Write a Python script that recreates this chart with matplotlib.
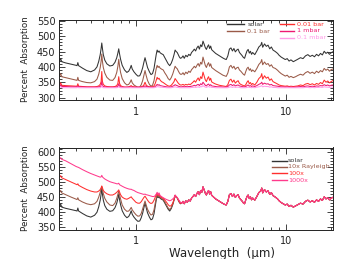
import numpy as np
import matplotlib
matplotlib.use("Agg")
import matplotlib.pyplot as plt
from matplotlib.ticker import LogLocator, NullFormatter, FixedLocator, FixedFormatter, MultipleLocator

# ---------------- data ----------------
wl_short = [0.300, 0.305, 0.310, 0.315, 0.320, 0.340, 0.370, 0.400, 0.405, 0.410,
            0.415, 0.440, 0.470, 0.500, 0.530, 0.550, 0.565, 0.578, 0.586, 0.592,
            0.598, 0.606, 0.620, 0.640, 0.670, 0.700, 0.725, 0.745, 0.758, 0.768,
            0.778, 0.790, 0.810, 0.840, 0.870, 0.895, 0.915, 0.930, 0.945, 0.970,
            1.000, 1.030, 1.060, 1.085, 1.110, 1.130, 1.150, 1.170, 1.195, 1.230,
            1.260, 1.290, 1.320, 1.345, 1.365, 1.385, 1.405, 1.425, 1.450, 1.480,
            1.520, 1.560, 1.600, 1.640, 1.680, 1.720, 1.760, 1.795, 1.825, 1.855,
            1.885, 1.915, 1.950, 1.980]
wl_long = [2.02, 2.06, 2.10, 2.15, 2.20, 2.25, 2.30, 2.35, 2.40, 2.45,
           2.50, 2.55, 2.60, 2.65, 2.70, 2.75, 2.80, 2.85, 2.90, 2.95,
           3.00, 3.05, 3.10, 3.15, 3.20, 3.30, 3.40, 3.50, 3.60, 3.70,
           3.80, 3.90, 4.00, 4.10, 4.20, 4.30, 4.40, 4.50, 4.60, 4.70,
           4.80, 4.90, 5.00, 5.10, 5.20, 5.30, 5.40, 5.50, 5.60, 5.70,
           5.80, 5.90, 6.00, 6.20, 6.40, 6.60, 6.80, 6.90, 7.00, 7.20,
           7.40, 7.60, 7.80, 8.00, 8.20, 8.50, 8.80, 9.00, 9.30, 9.60,
           9.90, 10.2, 10.5, 10.8, 11.2, 11.6, 12.0, 12.5, 13.0, 13.5,
           14.0, 14.5, 15.0, 15.5, 16.0, 16.5, 17.0, 17.5, 18.0, 18.5,
           19.0, 19.5, 20.0, 20.5]

# top panel: solar and pressure cut-offs
solar_short = [424, 430, 419, 427, 417, 413, 409, 405, 404, 414,
               404, 396, 388, 384, 390, 400, 418, 440, 460, 478,
               460, 440, 422, 410, 403, 405, 415, 430, 445, 459,
               442, 425, 405, 390, 382, 386, 395, 405, 393, 384,
               376, 370, 371, 382, 398, 415, 430, 415, 398, 384,
               375, 378, 395, 420, 440, 455, 448, 452, 446, 443,
               440, 430, 420, 410, 404, 412, 425, 440, 455, 450,
               447, 440, 432, 428]
solar_long = [430, 436, 428, 438, 433, 441, 437, 447, 452, 458,
              452, 462, 468, 458, 472, 466, 484, 474, 463, 457,
              466, 472, 460, 468, 456, 450, 444, 440, 436, 432,
              429, 426, 424, 436, 458, 462, 452, 460, 449, 455,
              458, 447, 442, 437, 431, 428, 441, 452, 457, 445,
              451, 441, 447, 440, 452, 465, 471, 480, 464, 475,
              467, 471, 459, 465, 455, 450, 444, 438, 432, 428,
              424, 427, 419, 423, 417, 421, 425, 430, 427, 436,
              440, 434, 438, 433, 441, 436, 444, 439, 451, 444,
              448, 441, 446, 449]

bar01_short = [375, 381, 370, 378, 368, 365, 361, 357, 356, 366,
               356, 352, 349, 348, 352, 360, 376, 398, 418, 442,
               418, 398, 380, 366, 357, 356, 365, 382, 402, 425,
               402, 382, 362, 348, 341, 343, 350, 358, 348, 341,
               337, 333, 334, 342, 356, 372, 388, 372, 356, 343,
               337, 340, 355, 378, 394, 405, 398, 402, 396, 393,
               390, 380, 372, 362, 357, 365, 377, 390, 402, 397,
               394, 387, 380, 376]
bar01_long = [376, 381, 374, 383, 378, 386, 382, 391, 396, 402,
              397, 405, 411, 402, 415, 409, 432, 418, 405, 398,
              408, 414, 402, 410, 398, 393, 388, 384, 380, 376,
              373, 371, 369, 380, 400, 405, 396, 402, 392, 397,
              399, 390, 386, 381, 376, 373, 385, 395, 399, 389,
              394, 385, 390, 384, 395, 408, 415, 424, 407, 416,
              408, 411, 402, 407, 398, 395, 389, 384, 378, 374,
              370, 373, 366, 369, 365, 368, 372, 376, 373, 381,
              385, 379, 383, 378, 386, 381, 388, 384, 395, 389,
              393, 386, 391, 393]

bar001_short = [345, 350, 341, 348, 340, 339, 338, 337, 337, 345,
                337, 336, 335, 335, 335, 336, 338, 343, 352, 385,
                352, 343, 338, 336, 335, 335, 336, 339, 346, 368,
                346, 339, 336, 334, 334, 335, 337, 339, 336, 335,
                334, 334, 334, 335, 337, 341, 350, 341, 337, 335,
                335, 335, 338, 346, 356, 366, 360, 363, 357, 352,
                349, 345, 341, 338, 337, 340, 346, 352, 362, 357,
                352, 347, 343, 341]
bar001_long = [341, 343, 340, 343, 341, 344, 342, 346, 350, 355,
               350, 358, 364, 355, 368, 362, 383, 370, 358, 352,
               362, 368, 356, 363, 351, 347, 344, 342, 340, 339,
               338, 337, 336, 342, 356, 360, 350, 357, 347, 352,
               355, 346, 343, 341, 339, 338, 342, 350, 355, 345,
               349, 342, 346, 341, 350, 362, 368, 378, 360, 371,
               363, 367, 356, 361, 352, 348, 344, 341, 339, 338,
               337, 338, 336, 337, 336, 337, 338, 341, 339, 344,
               346, 342, 345, 341, 346, 343, 349, 345, 357, 350,
               354, 348, 352, 355]

mbar1_short = [340, 343, 337, 341, 336, 336, 335, 335, 335, 338,
               335, 335, 334, 334, 334, 334, 335, 336, 339, 352,
               339, 336, 335, 334, 334, 334, 334, 335, 337, 345,
               337, 335, 334, 334, 334, 334, 335, 335, 334, 334,
               334, 334, 334, 334, 335, 336, 338, 336, 335, 334,
               334, 334, 334, 336, 339, 343, 340, 342, 339, 338,
               337, 336, 335, 334, 334, 335, 337, 339, 342, 340,
               339, 337, 336, 335]
mbar1_long = [335, 336, 335, 336, 335, 336, 336, 337, 338, 340,
              338, 341, 343, 339, 345, 342, 350, 345, 340, 338,
              342, 344, 339, 342, 338, 337, 336, 335, 335, 335,
              334, 334, 334, 336, 341, 343, 339, 342, 338, 340,
              341, 338, 337, 336, 335, 335, 336, 339, 341, 337,
              339, 336, 338, 336, 339, 343, 346, 350, 343, 347,
              344, 345, 341, 343, 339, 338, 337, 336, 335, 335,
              334, 335, 334, 334, 334, 334, 335, 336, 335, 337,
              338, 336, 337, 336, 338, 337, 339, 338, 342, 339,
              341, 338, 340, 341]

mbar01_short = [335, 337, 333, 336, 332, 332, 332, 332, 332, 334,
                332, 332, 332, 332, 332, 332, 332, 332, 334, 340,
                334, 332, 332, 332, 332, 332, 332, 332, 333, 336,
                333, 332, 332, 332, 332, 332, 332, 332, 332, 332,
                332, 332, 332, 332, 332, 332, 333, 332, 332, 332,
                332, 332, 332, 333, 334, 336, 335, 335, 334, 334,
                333, 333, 332, 332, 332, 332, 333, 334, 335, 334,
                333, 333, 332, 332]
mbar01_long = [332, 332, 332, 332, 332, 332, 332, 333, 333, 334,
               333, 334, 335, 333, 336, 335, 339, 336, 334, 333,
               335, 336, 334, 335, 333, 333, 332, 332, 332, 332,
               332, 332, 332, 332, 334, 335, 333, 335, 333, 334,
               334, 333, 332, 332, 332, 332, 332, 333, 334, 333,
               333, 332, 333, 332, 334, 335, 337, 339, 335, 337,
               336, 336, 334, 335, 333, 333, 332, 332, 332, 332,
               332, 332, 332, 332, 332, 332, 332, 332, 332, 333,
               333, 332, 333, 332, 333, 333, 334, 333, 335, 334,
               334, 333, 334, 334]

# bottom panel: enhanced Rayleigh scattering (identical to solar beyond ~2 um)
ray10_short = [470, 476, 466, 472, 464, 458, 450, 443, 442, 448,
               441, 434, 428, 425, 428, 436, 450, 466, 478, 485,
               476, 462, 446, 434, 424, 422, 430, 446, 460, 470,
               458, 444, 424, 410, 403, 404, 410, 416, 408, 400,
               392, 387, 388, 396, 412, 425, 437, 424, 410, 398,
               391, 393, 408, 430, 445, 458, 452, 456, 449, 446,
               443, 434, 424, 414, 409, 415, 428, 442, 456, 451,
               448, 441, 434, 430]
ray100_short = [520, 525, 516, 521, 514, 508, 500, 492, 491, 494,
                489, 482, 475, 470, 467, 467, 470, 475, 480, 487,
                480, 472, 466, 461, 457, 457, 461, 466, 470, 474,
                467, 458, 450, 445, 443, 446, 449, 451, 446, 440,
                433, 430, 430, 435, 443, 449, 453, 447, 440, 432,
                429, 431, 440, 450, 457, 462, 455, 460, 452, 449,
                446, 440, 433, 425, 420, 422, 430, 442, 456, 451,
                448, 441, 434, 430]
ray1000_short = [580, 582, 577, 580, 575, 570, 560, 551, 550, 549,
                 548, 541, 534, 528, 523, 520, 518, 516, 517, 522,
                 517, 514, 510, 506, 501, 498, 496, 494, 494, 496,
                 491, 489, 486, 482, 479, 477, 476, 476, 474, 472,
                 468, 465, 463, 461, 460, 459, 460, 458, 457, 455,
                 453, 452, 452, 455, 460, 466, 458, 464, 455, 452,
                 448, 445, 442, 440, 438, 440, 444, 448, 457, 452,
                 449, 443, 438, 433]

top_labels = ["solar", "0.1 bar", "0.01 bar", "1 mbar", "0.1 mbar"]
bot_labels = ["solar", "10x Rayleigh", "100x", "1000x"]

# ---------------- styles ----------------
c_solar = "#333333"
c_brown = "#9a5a48"
c_red = "#ff2e2e"
c_mbar1 = "#ee1a72"
c_mbar01 = "#ff9be8"
c_pink = "#ff3a8c"
txt = "#222222"

plt.rcParams["font.family"] = ["DejaVu Sans"]

W, H = 352, 259
fig = plt.figure(figsize=(W / 100, H / 100), dpi=100)

ax1 = fig.add_axes([59 / W, 1 - 100 / H, 274 / W, 80 / H])
ax2 = fig.add_axes([59 / W, 1 - 229.5 / H, 274 / W, 82 / H])

wl = np.array(wl_short + wl_long)

top_series = [solar_short + solar_long, bar01_short + bar01_long,
              bar001_short + bar001_long, mbar1_short + mbar1_long,
              mbar01_short + mbar01_long]
top_colors = [c_solar, c_brown, c_red, c_mbar1, c_mbar01]
for vals, col in zip(top_series, top_colors):
    ax1.plot(wl, vals, color=col, lw=0.75)

bot_series = [solar_short + solar_long, ray10_short + solar_long,
              ray100_short + solar_long, ray1000_short + solar_long]
bot_colors = [c_solar, c_brown, c_red, c_pink]
for vals, col in zip(bot_series, bot_colors):
    ax2.plot(wl, vals, color=col, lw=0.75)

for ax, ylim, yt in ((ax1, (292, 553), [300, 350, 400, 450, 500, 550]),
                     (ax2, (343, 614), [350, 400, 450, 500, 550, 600])):
    ax.set_xscale("log")
    ax.set_xlim(0.307, 20.6)
    ax.set_ylim(*ylim)
    ax.xaxis.set_major_locator(FixedLocator([1, 10]))
    ax.xaxis.set_major_formatter(FixedFormatter(["1", "10"]))
    ax.xaxis.set_minor_locator(LogLocator(base=10, subs=np.arange(2, 10), numticks=20))
    ax.xaxis.set_minor_formatter(NullFormatter())
    ax.set_yticks(yt)
    ax.yaxis.set_minor_locator(MultipleLocator(10))
    ax.tick_params(which="both", direction="in", top=True, right=True,
                   colors=txt, labelsize=7, width=0.6)
    ax.tick_params(which="major", length=4.5)
    ax.tick_params(which="minor", length=2.2)
    ax.tick_params(axis="y", pad=2.5)
    ax.tick_params(axis="x", pad=5)
    for s in ax.spines.values():
        s.set_linewidth(0.7)
        s.set_color(txt)

# top legend (two columns)
leg_top = [(0.612, 0.675, 0.687, 0.95, 0), (0.612, 0.675, 0.687, 0.86, 1),
           (0.806, 0.858, 0.868, 0.95, 2), (0.806, 0.858, 0.868, 0.865, 3),
           (0.806, 0.858, 0.868, 0.78, 4)]
for x0, x1, xt, y, i in leg_top:
    ax1.plot([x0, x1], [y, y], transform=ax1.transAxes, color=top_colors[i], lw=1.0)
    ax1.text(xt, y, top_labels[i], transform=ax1.transAxes, color=top_colors[i],
             fontsize=4.6, va="center", ha="left")

# bottom legend
for i, y in enumerate([0.84, 0.765, 0.685, 0.60]):
    ax2.plot([0.777, 0.832], [y, y], transform=ax2.transAxes, color=bot_colors[i], lw=1.0)
    ax2.text(0.836, y, bot_labels[i], transform=ax2.transAxes, color=bot_colors[i],
             fontsize=4.6, va="center", ha="left")

fig.text(25 / W, 1 - 59 / H, "Percent  Absorption", rotation=90, ha="center",
         va="center", fontsize=6.3, color=txt)
fig.text(25 / W, 1 - 188 / H, "Percent  Absorption", rotation=90, ha="center",
         va="center", fontsize=6.3, color=txt)
fig.text(222 / W, 1 - 253 / H, "Wavelength  (\u03bcm)", ha="center", va="center",
         fontsize=8.5, color=txt)

fig.savefig("out.png", dpi=100)
